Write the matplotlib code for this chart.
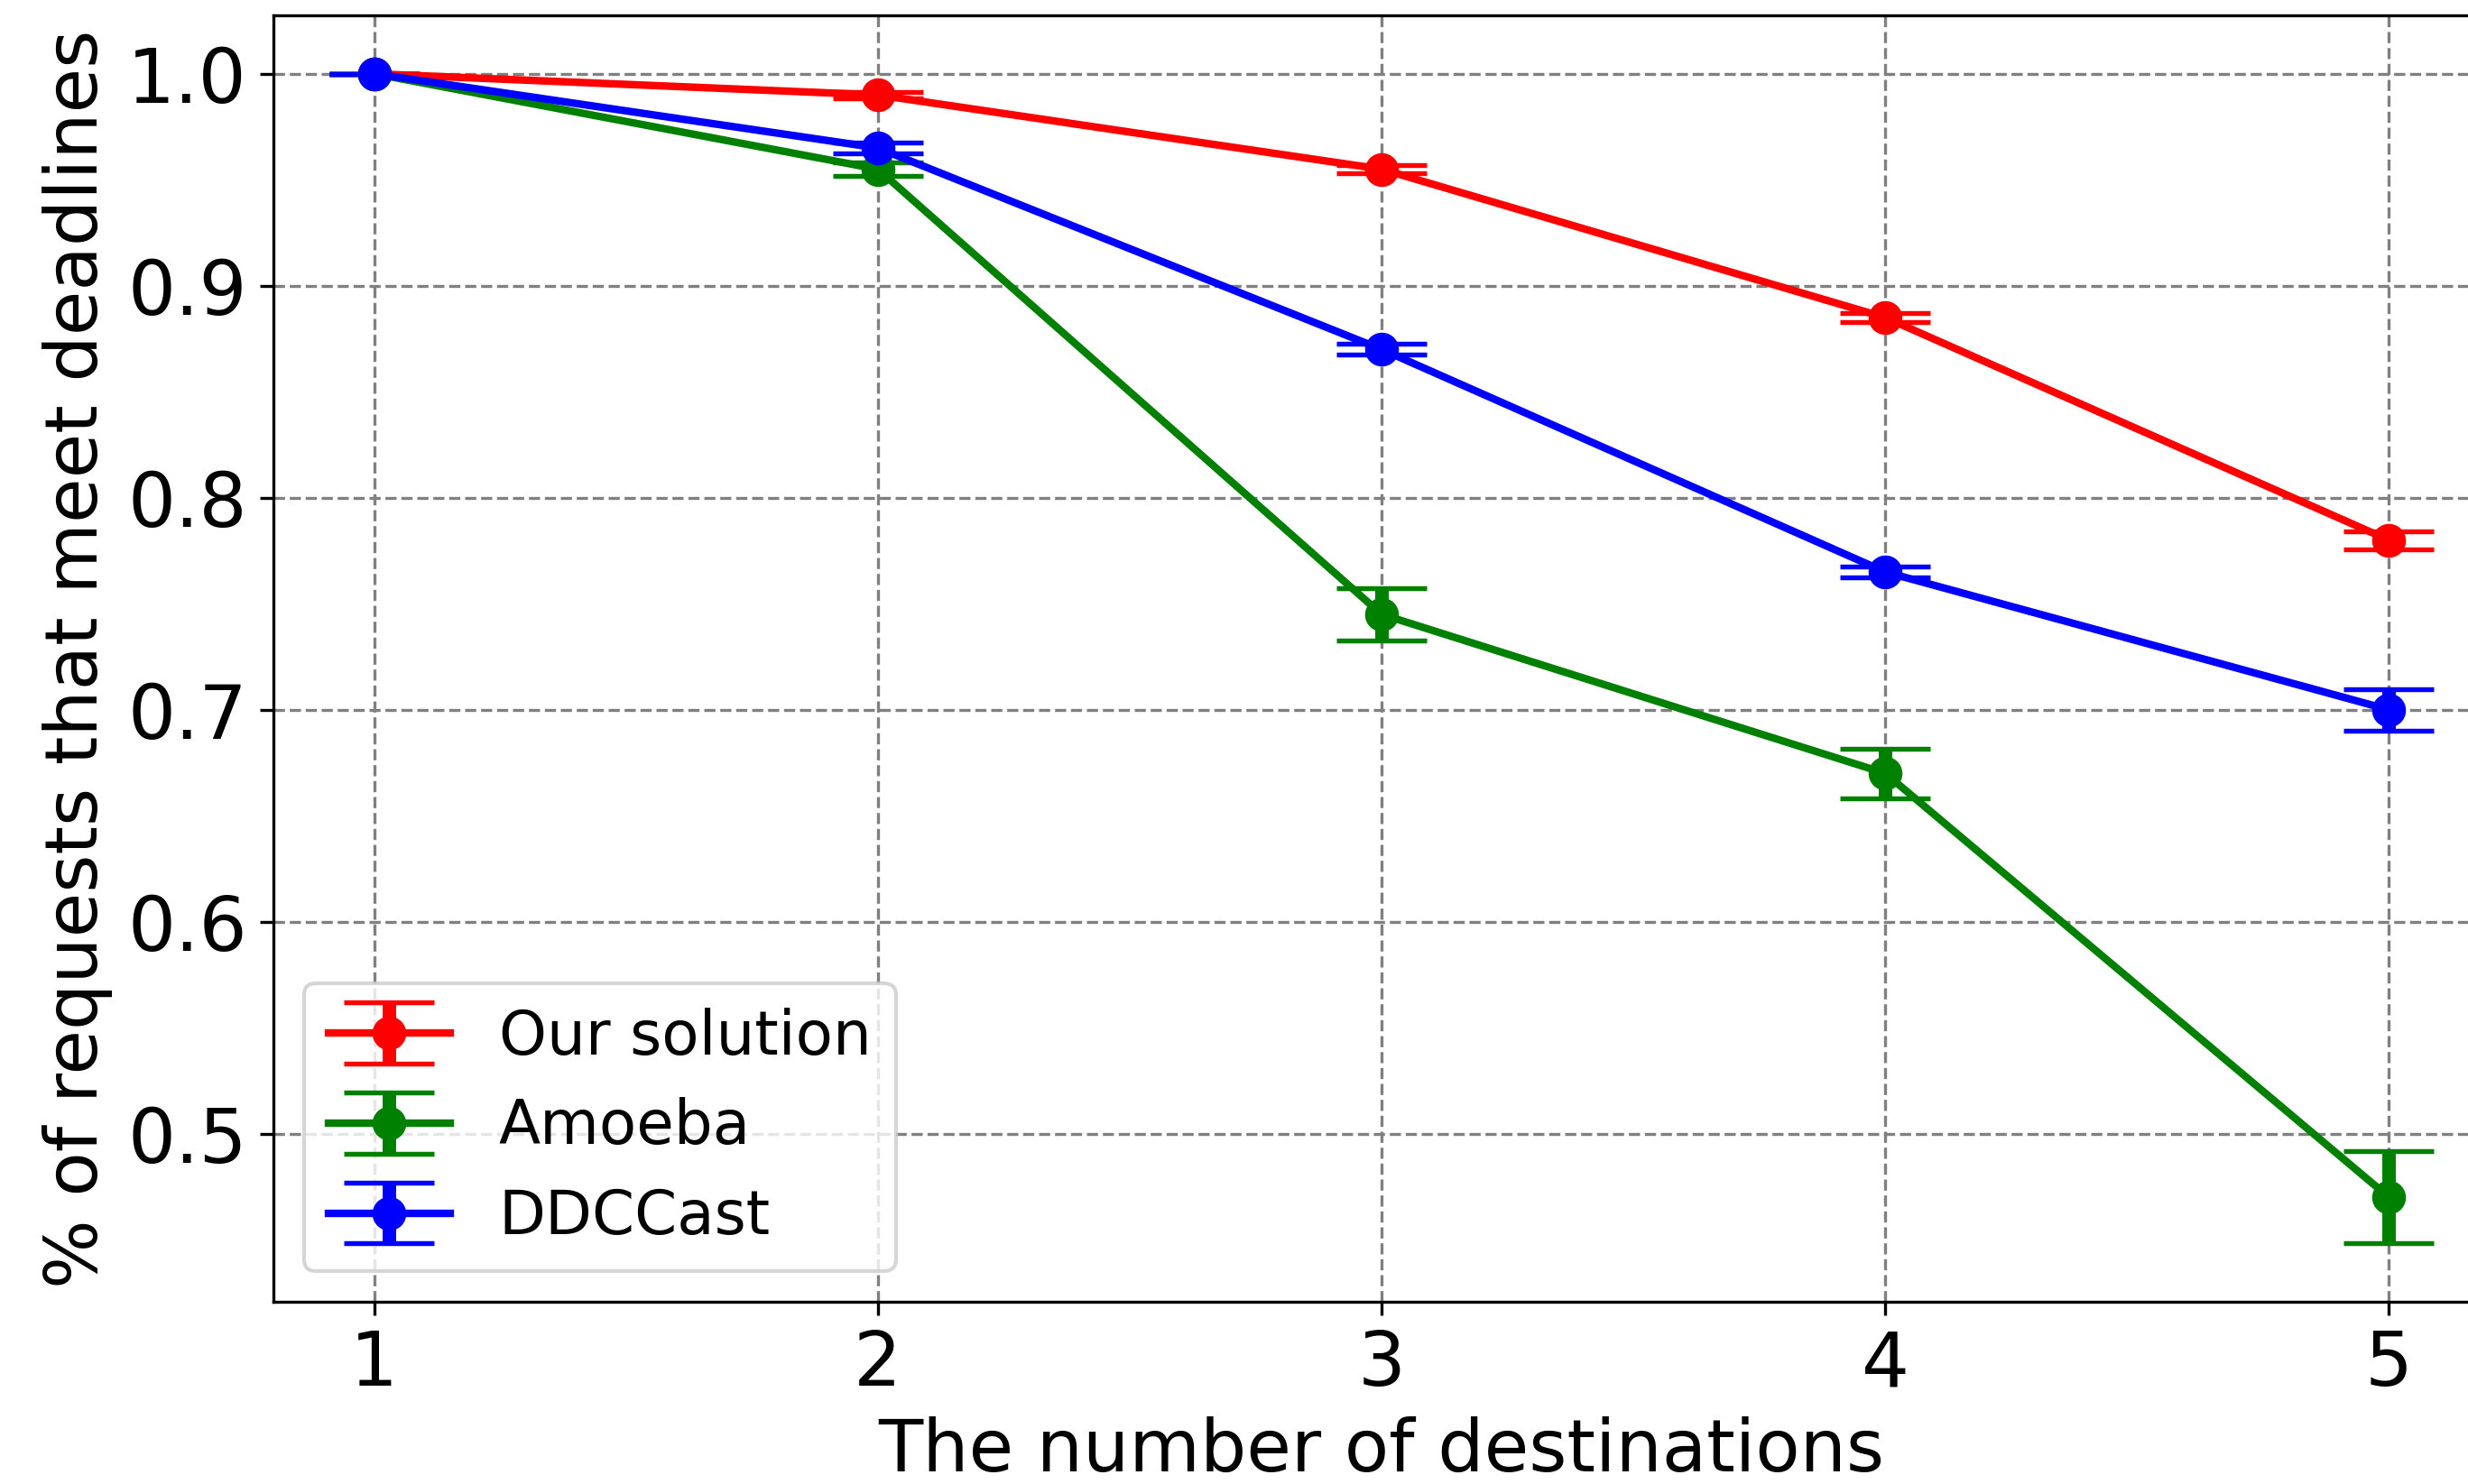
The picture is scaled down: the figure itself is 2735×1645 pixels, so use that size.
import matplotlib
matplotlib.use('Agg')
from matplotlib import pyplot as plt

# data
destinations = [1, 2, 3, 4, 5]

ours = [1.0, 0.990, 0.955, 0.885, 0.780]
ours_err = [0.0, 0.0015, 0.0018, 0.002, 0.0043]

amoeba = [1.0, 0.955, 0.745, 0.670, 0.470]
amoeba_err = [0.0, 0.003, 0.0125, 0.0117, 0.0217]

ddccast = [1.0, 0.965, 0.870, 0.765, 0.700]
ddccast_err = [0.0, 0.0025, 0.0025, 0.0027, 0.0098]

fig = plt.figure(figsize=(2735/300, 1645/300), dpi=300)
ax = fig.add_axes([0.1108, 0.1228, 0.898, 0.8669])

style = dict(fmt='-o', lw=2, ms=8, elinewidth=3.6, capsize=12, capthick=1.3)
ax.errorbar(destinations, ours, yerr=ours_err, color='red', label='Our solution', **style)
ax.errorbar(destinations, amoeba, yerr=amoeba_err, color='green', label='Amoeba', **style)
ax.errorbar(destinations, ddccast, yerr=ddccast_err, color='blue', label='DDCCast', **style)

ax.set_xlim(0.8, 5.2)
ax.set_xticks(destinations)
ax.grid(True, linestyle='--', color='gray')
ax.tick_params(labelsize=20)
ax.set_xlabel('The number of destinations', fontsize=19.4)
ax.set_ylabel('% of requests that meet deadlines', fontsize=19.4)
ax.legend(loc='lower left', fontsize=16.2)

plt.savefig('out.png', dpi=300)
